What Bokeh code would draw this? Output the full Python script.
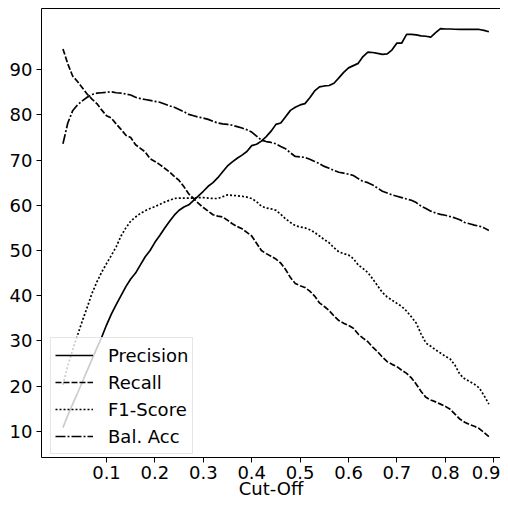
from bokeh.plotting import figure
from bokeh.models import Range1d, FixedTicker, Legend, LegendItem, LinearAxis, PrintfTickFormatter
from bokeh.embed import file_html
from bokeh.resources import INLINE

cutoff = [round(0.01 * i, 2) for i in range(1, 90)]

precision = [10.8, 13.5, 16.0, 18.4, 20.9, 23.4, 25.9, 28.4, 30.8, 33.5,
             35.9, 38.0, 40.0, 42.0, 43.7, 45.0, 46.8, 48.6, 50.0, 51.8,
             53.3, 54.9, 56.4, 57.8, 58.9, 59.6, 60.1, 61.1, 62.1, 63.1,
             64.2, 65.0, 66.1, 67.4, 68.7, 69.6, 70.4, 71.1, 71.9, 73.2,
             73.5, 74.2, 75.2, 76.4, 77.9, 78.2, 79.6, 81.0, 81.7, 82.2,
             82.5, 83.8, 85.3, 86.2, 86.4, 86.5, 87.0, 88.2, 89.4, 90.4,
             90.9, 91.4, 92.9, 93.9, 93.8, 93.6, 93.4, 93.5, 94.4, 95.9,
             95.9, 97.8, 97.8, 97.7, 97.5, 97.4, 97.2, 98.2, 99.1, 99.0,
             99.0, 98.95, 98.9, 98.9, 98.9, 98.9, 98.9, 98.7, 98.4]

recall = [94.6, 91.3, 88.6, 87.4, 86.0, 84.6, 83.5, 82.5, 81.1, 79.8,
          79.3, 78.0, 76.8, 75.5, 75.0, 73.4, 72.6, 71.8, 70.3, 69.7,
          69.0, 68.2, 67.4, 66.4, 65.5, 64.1, 62.5, 61.5, 60.4, 59.5,
          58.7, 57.9, 57.6, 57.4, 56.7, 55.9, 55.3, 54.8, 54.0, 53.2,
          51.6, 50.0, 49.3, 48.7, 48.1, 47.2, 45.8, 44.0, 42.7, 42.2,
          41.8, 41.0, 39.9, 38.4, 37.6, 36.7, 35.5, 34.5, 33.9, 33.4,
          32.8, 31.5, 30.6, 29.8, 28.6, 27.6, 26.4, 25.4, 24.8, 24.3,
          23.5, 22.8, 21.8, 20.4, 18.8, 17.5, 16.9, 16.5, 16.0, 15.5,
          14.85, 13.8, 12.7, 12.0, 11.5, 11.1, 10.6, 9.7, 8.8]

f1_score = [20.3, 24.5, 28.0, 31.2, 34.4, 37.4, 40.5, 43.0, 45.2, 47.1,
            48.9, 50.8, 53.2, 55.0, 56.5, 57.4, 58.2, 58.8, 59.3, 59.7,
            60.2, 60.7, 61.1, 61.5, 61.6, 61.6, 61.6, 61.6, 61.7, 61.7,
            61.6, 61.5, 61.5, 61.9, 62.3, 62.2, 62.1, 62.0, 61.8, 61.5,
            60.8, 59.8, 59.4, 59.2, 58.9, 58.0, 57.0, 56.2, 55.5, 55.2,
            55.0, 54.6, 54.0, 53.2, 52.4, 51.7, 50.6, 49.7, 49.3, 49.0,
            48.2, 46.8, 46.0, 45.1, 43.7, 42.2, 40.7, 39.7, 39.0, 38.3,
            37.6, 36.6, 35.3, 33.9, 31.5, 29.5, 28.8, 28.0, 27.3, 26.6,
            26.0, 24.6, 22.6, 21.6, 21.0, 20.4, 19.6, 17.9, 16.0]

bal_acc = [73.6, 78.2, 80.9, 82.2, 83.1, 83.9, 84.5, 84.8, 84.9, 85.0,
           85.1, 84.9, 84.8, 84.6, 84.4, 83.9, 83.6, 83.4, 83.2, 83.0,
           82.8, 82.4, 82.0, 81.7, 81.2, 80.7, 80.1, 79.8, 79.5, 79.3,
           79.0, 78.6, 78.2, 78.0, 77.9, 77.7, 77.4, 77.1, 76.7, 76.2,
           75.3, 74.4, 74.1, 73.9, 73.6, 73.0, 72.5, 71.6, 70.8, 70.7,
           70.6, 70.2, 69.7, 69.2, 68.6, 68.2, 67.7, 67.3, 67.1, 66.9,
           66.6, 65.9, 65.3, 65.0, 64.5, 63.8, 63.1, 62.7, 62.3, 62.0,
           61.7, 61.4, 61.1, 60.6, 59.8, 59.3, 58.7, 58.3, 58.0, 57.8,
           57.5, 57.2, 56.8, 56.2, 55.9, 55.6, 55.4, 55.0, 54.4]

series_labels = ["Precision", "Recall", "F1-Score", "Bal. Acc"]
x_ticks = [0.1, 0.2, 0.3, 0.4, 0.5, 0.6, 0.7, 0.8, 0.9]
y_ticks = [10, 20, 30, 40, 50, 60, 70, 80, 90]
x_label = "Cut-Off"

FONT = "DejaVu Sans"
FS = "18px"

p = figure(width=500, height=501, output_backend="svg", toolbar_location=None,
           x_range=Range1d(-0.0343, 0.914), y_range=Range1d(4.19, 103.54),
           min_border_left=41, min_border_right=0, min_border_top=8,
           min_border_bottom=39)
p.outline_line_color = None
p.xgrid.visible = False
p.ygrid.visible = False
p.background_fill_color = "white"
p.border_fill_color = "white"

lw = 1.7
r1 = p.line(cutoff, precision, line_color="black", line_width=lw)
r2 = p.line(cutoff, recall, line_color="black", line_width=lw, line_dash="6 2")
r3 = p.line(cutoff, f1_score, line_color="black", line_width=lw, line_dash="2 2")
r4 = p.line(cutoff, bal_acc, line_color="black", line_width=lw, line_dash="10 2 2 2")

for ax in (p.xaxis[0], p.yaxis[0]):
    ax.axis_line_color = "black"
    ax.axis_line_width = 1
    ax.major_tick_line_color = "black"
    ax.major_tick_line_width = 1
    ax.major_tick_out = 5
    ax.major_tick_in = 0
    ax.minor_tick_line_color = None
    ax.major_label_text_font = FONT
    ax.major_label_text_font_size = FS
    ax.major_label_text_color = "black"

p.xaxis.ticker = FixedTicker(ticks=x_ticks)
p.yaxis.ticker = FixedTicker(ticks=y_ticks)
p.xaxis.formatter = PrintfTickFormatter(format="%.1f")
p.yaxis.formatter = PrintfTickFormatter(format="%d")
p.xaxis.major_label_standoff = 3
p.yaxis.major_label_standoff = 4
p.xaxis.axis_label = x_label
p.xaxis.axis_label_text_font = FONT
p.xaxis.axis_label_text_font_size = FS
p.xaxis.axis_label_text_font_style = "normal"
p.xaxis.axis_label_text_color = "black"
p.xaxis.axis_label_standoff = -4

top = LinearAxis(ticker=FixedTicker(ticks=[]), axis_line_color="black",
                 axis_line_width=1, major_tick_line_color=None,
                 minor_tick_line_color=None, major_label_text_font_size="0px",
                 major_tick_out=0, major_tick_in=0, major_label_standoff=0)
p.add_layout(top, "above")

legend = Legend(items=[LegendItem(label=series_labels[0], renderers=[r1]),
                       LegendItem(label=series_labels[1], renderers=[r2]),
                       LegendItem(label=series_labels[2], renderers=[r3]),
                       LegendItem(label=series_labels[3], renderers=[r4])],
                location=(9, 3), margin=0, padding=4, spacing=1,
                glyph_width=38, glyph_height=26, label_height=26,
                label_standoff=15,
                label_text_font=FONT, label_text_font_size=FS,
                label_text_color="black",
                background_fill_color="white", background_fill_alpha=0.8,
                border_line_color="#cccccc", border_line_width=1)
p.add_layout(legend)

open("out.html", "w").write(file_html(p, INLINE))
